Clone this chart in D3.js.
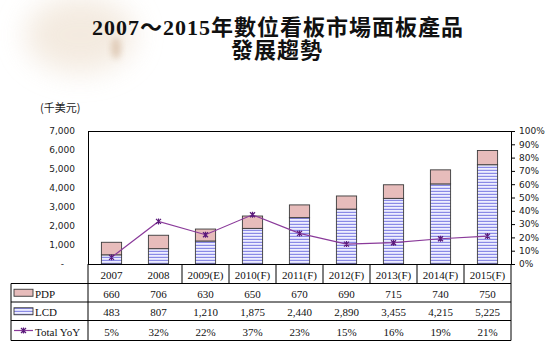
<!DOCTYPE html>
<html>
<head>
<meta charset="utf-8">
<script src="https://cdn.jsdelivr.net/npm/d3@7"></script>
<style>
  html, body { margin: 0; padding: 0; background: #fff; }
  svg { display: block; }
</style>
</head>
<body>
<svg id="chart" width="550" height="347"></svg>
<script>
// Digital signage panel market, 2007–2015 (thousand USD)
const categories = ["2007", "2008", "2009(E)", "2010(F)", "2011(F)", "2012(F)", "2013(F)", "2014(F)", "2015(F)"];
const pdpValues = [660, 706, 630, 650, 670, 690, 715, 740, 750];
const lcdValues = [483, 807, 1210, 1875, 2440, 2890, 3455, 4215, 5225];
const yoyValues = [0.05, 0.32, 0.22, 0.37, 0.23, 0.15, 0.16, 0.19, 0.21];
const yoyLabels = ["5%", "32%", "22%", "37%", "23%", "15%", "16%", "19%", "21%"];
const leftTicks = [0, 1000, 2000, 3000, 4000, 5000, 6000, 7000];
const rightTicks = [0, 0.1, 0.2, 0.3, 0.4, 0.5, 0.6, 0.7, 0.8, 0.9, 1.0];
const seriesNames = ["PDP", "LCD", "Total YoY"];

const svg = d3.select("#chart");
const defs = svg.append("defs");

// soft paper stain in the top-left corner
const blur = defs.append("filter").attr("id", "stain").attr("x", "-50%").attr("y", "-50%").attr("width", "200%").attr("height", "200%");
blur.append("feGaussianBlur").attr("stdDeviation", 14);
const blurSmall = defs.append("filter").attr("id", "stainSmall").attr("x", "-50%").attr("y", "-50%").attr("width", "200%").attr("height", "200%");
blurSmall.append("feGaussianBlur").attr("stdDeviation", 3);
const stain = svg.append("g");
stain.append("ellipse").attr("cx", 80).attr("cy", 35).attr("rx", 55).attr("ry", 38)
  .attr("fill", "#efe2d3").attr("opacity", 0.7).attr("filter", "url(#stain)");
stain.append("ellipse").attr("cx", 116).attr("cy", 48).attr("rx", 5).attr("ry", 11)
  .attr("fill", "#dcc4ae").attr("opacity", 0.8).attr("filter", "url(#stainSmall)");

// striped fill for LCD
const stripe = defs.append("pattern").attr("id", "lcdStripe")
  .attr("patternUnits", "userSpaceOnUse").attr("width", 6).attr("height", 3);
stripe.append("rect").attr("width", 6).attr("height", 3).attr("fill", "#eeeeff");
stripe.append("rect").attr("width", 6).attr("height", 1.2).attr("y", 1.8).attr("fill", "#8a8ae6");

// title
const title = svg.append("text")
  .attr("text-anchor", "middle")
  .attr("font-family", "'Liberation Serif', 'Noto Sans CJK TC', serif")
  .attr("font-weight", "bold").attr("font-size", 22).attr("letter-spacing", 1).attr("fill", "#111");
title.append("tspan").attr("x", 278).attr("y", 35).text("2007～2015年數位看板市場面板產品");
title.append("tspan").attr("x", 277).attr("y", 58).text("發展趨勢");

// plot area
const plotL = 88, plotR = 511, plotT = 131, plotB = 264;
const x = d3.scaleBand().domain(categories).range([plotL, plotR]).paddingInner(0).paddingOuter(0);
const yL = d3.scaleLinear().domain([0, 7000]).range([plotB, plotT]);
const yR = d3.scaleLinear().domain([0, 1]).range([plotB, plotT]);
const barW = x.bandwidth() * 0.43;

svg.append("text").attr("x", 40).attr("y", 112)
  .attr("font-family", "'Noto Sans CJK TC', 'DejaVu Sans', sans-serif").attr("font-size", 11).attr("fill", "#222")
  .text("(千美元)");

// left axis
const gL = svg.append("g").attr("transform", `translate(${plotL},0)`)
  .call(d3.axisLeft(yL).tickValues(leftTicks).tickSize(0).tickSizeOuter(0).tickPadding(13)
    .tickFormat(d => d === 0 ? "-" : d3.format(",")(d)));
gL.select(".domain").attr("stroke", "#000");
gL.selectAll("text").attr("font-family", "'DejaVu Sans', sans-serif").attr("font-size", 9).attr("fill", "#222");
gL.selectAll(".tick").filter(d => d === 0).select("text").attr("x", -24);

// right axis
const gR = svg.append("g").attr("transform", `translate(${plotR},0)`)
  .call(d3.axisRight(yR).tickValues(rightTicks).tickSize(4).tickSizeOuter(0).tickPadding(4)
    .tickFormat(d3.format(".0%")));
gR.select(".domain").attr("stroke", "#000");
gR.selectAll("line").attr("stroke", "#000");
gR.selectAll("text").attr("font-family", "'DejaVu Sans', sans-serif").attr("font-size", 9).attr("fill", "#222");

// top border of the plot
svg.append("line").attr("x1", plotL).attr("x2", plotR).attr("y1", plotT + 0.5).attr("y2", plotT + 0.5)
  .attr("stroke", "#000");

// stacked bars
const bars = svg.append("g");
categories.forEach((c, i) => {
  const cx = x(c) + x.bandwidth() / 2;
  bars.append("rect")
    .attr("x", cx - barW / 2).attr("width", barW)
    .attr("y", yL(lcdValues[i])).attr("height", yL(0) - yL(lcdValues[i]))
    .attr("fill", "url(#lcdStripe)").attr("stroke", "#3a3a3a").attr("stroke-width", 0.9);
  bars.append("rect")
    .attr("x", cx - barW / 2).attr("width", barW)
    .attr("y", yL(lcdValues[i] + pdpValues[i])).attr("height", yL(lcdValues[i]) - yL(lcdValues[i] + pdpValues[i]))
    .attr("fill", "#e7bcbb").attr("stroke", "#3a3a3a").attr("stroke-width", 0.9);
});

// YoY line with star markers
const lineColor = "#8a3a9a";
const pts = categories.map((c, i) => [x(c) + x.bandwidth() / 2, yR(yoyValues[i])]);
svg.append("path").attr("d", d3.line()(pts)).attr("fill", "none")
  .attr("stroke", lineColor).attr("stroke-width", 1.2);
function star(g, px, py, s) {
  return g.append("path")
    .attr("d", `M${px - s},${py - s}L${px + s},${py + s}M${px - s},${py + s}L${px + s},${py - s}M${px},${py - s - 0.5}L${px},${py + s + 0.5}`)
    .attr("stroke", "#5a1a7a").attr("stroke-width", 1.2).attr("fill", "none");
}
const mk = svg.append("g");
pts.forEach(p => star(mk, p[0], p[1], 2.5));

// data table
const tableLeft = 11;
const rowY = [264, 283.5, 302, 320.5, 340.5];
const table = svg.append("g").attr("stroke", "#000").attr("stroke-width", 1);
rowY.slice(1).forEach(yy => {
  table.append("line").attr("x1", tableLeft).attr("x2", plotR).attr("y1", yy).attr("y2", yy);
});
table.append("line").attr("x1", plotL).attr("x2", plotR).attr("y1", plotB + 0.5).attr("y2", plotB + 0.5);
table.append("line").attr("x1", tableLeft).attr("x2", tableLeft).attr("y1", rowY[1]).attr("y2", rowY[4]);
table.append("line").attr("x1", plotL).attr("x2", plotL).attr("y1", plotB).attr("y2", rowY[4]);
table.append("line").attr("x1", plotR).attr("x2", plotR).attr("y1", plotB).attr("y2", rowY[4]);
categories.forEach((c, i) => {
  if (i < 2) return;
  table.append("line").attr("x1", x(c)).attr("x2", x(c)).attr("y1", rowY[0]).attr("y2", rowY[1]);
});

const serif = "'Liberation Serif', 'Times New Roman', serif";
const cellText = (tx, ty, s, anchor) => svg.append("text")
  .attr("x", tx).attr("y", ty).attr("text-anchor", anchor || "middle").attr("dominant-baseline", "central")
  .attr("font-family", serif).attr("font-size", 11).attr("fill", "#111").text(s);

categories.forEach((c, i) => {
  const cx = x(c) + x.bandwidth() / 2;
  cellText(cx, (rowY[0] + rowY[1]) / 2 + 1, c);
  cellText(cx, (rowY[1] + rowY[2]) / 2 + 1, d3.format(",")(pdpValues[i]));
  cellText(cx, (rowY[2] + rowY[3]) / 2 + 1, d3.format(",")(lcdValues[i]));
  cellText(cx, (rowY[3] + rowY[4]) / 2 + 1, yoyLabels[i]);
});

// legend keys inside the table
const keyX = 14, keyW = 19;
const r1 = (rowY[1] + rowY[2]) / 2, r2 = (rowY[2] + rowY[3]) / 2, r3 = (rowY[3] + rowY[4]) / 2;
svg.append("rect").attr("x", keyX).attr("y", r1 - 3.5).attr("width", keyW).attr("height", 7)
  .attr("fill", "#e7bcbb").attr("stroke", "#3a3a3a").attr("stroke-width", 0.9);
svg.append("rect").attr("x", keyX).attr("y", r2 - 3.5).attr("width", keyW).attr("height", 7)
  .attr("fill", "url(#lcdStripe)").attr("stroke", "#3a3a3a").attr("stroke-width", 0.9);
svg.append("line").attr("x1", keyX).attr("x2", keyX + keyW).attr("y1", r3).attr("y2", r3)
  .attr("stroke", lineColor).attr("stroke-width", 1.2);
star(svg, keyX + keyW / 2, r3, 2.5);
[r1, r2, r3].forEach((ry, i) => cellText(keyX + keyW + 2, ry + 1, seriesNames[i], "start"));
</script>
</body>
</html>
